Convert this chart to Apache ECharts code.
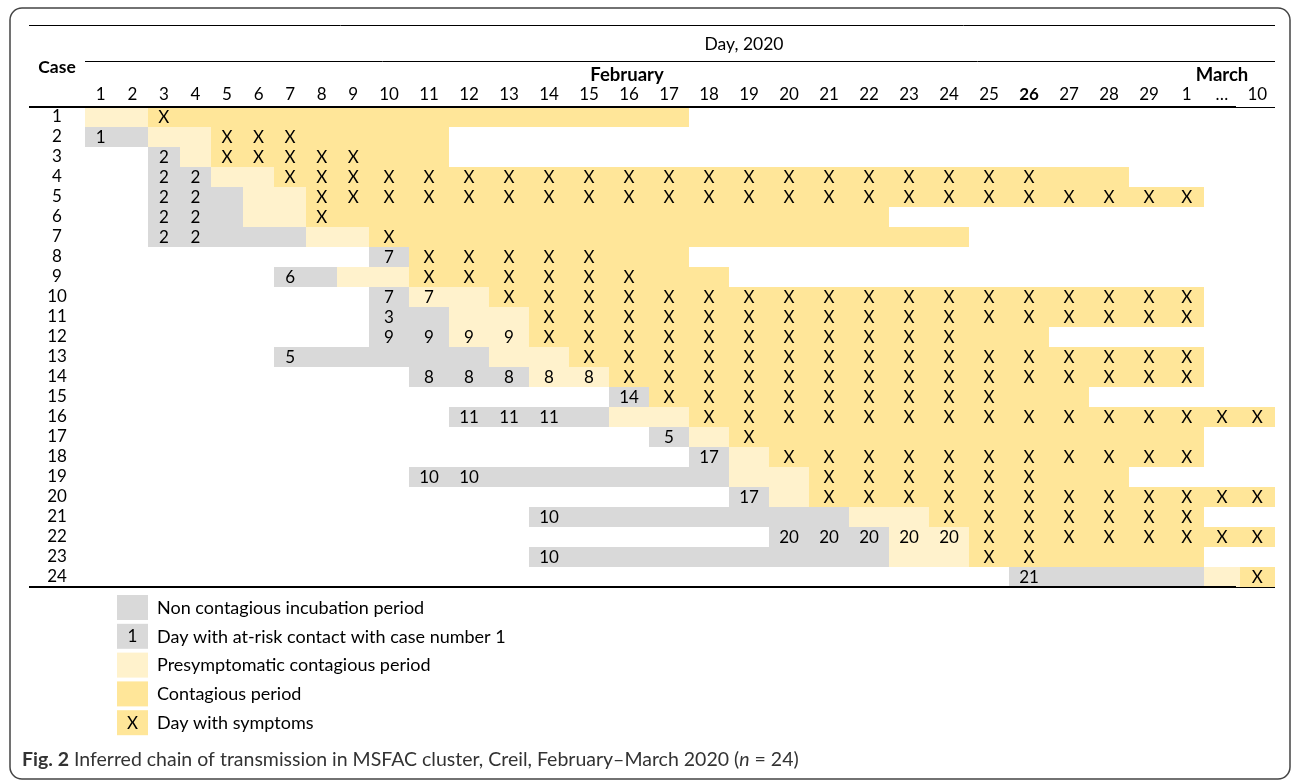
<!DOCTYPE html>
<html>
<head>
<meta charset="utf-8">
<script src="https://cdn.jsdelivr.net/npm/echarts@6/dist/echarts.min.js"></script>
<style>html,body{margin:0;padding:0;background:#fff}#c{width:1292px;height:780px}</style>
</head>
<body>
<div id="c"></div>
<script>
// ---- data ----
const dayLabels = ['1','2','3','4','5','6','7','8','9','10','11','12','13','14','15','16','17','18','19','20','21','22','23','24','25','26','27','28','29','1','…','10'];
const boldDay = '26';
const caseLabels = ['1','2','3','4','5','6','7','8','9','10','11','12','13','14','15','16','17','18','19','20','21','22','23','24'];
// per case, one token per day column (run-length "tok*n"):
// '.' none, 'i' non contagious incubation, 'p' presymptomatic contagious, 'c' contagious, 'x' contagious + symptoms
// ':N' = day with at-risk contact with case N
const caseRows = [
  'p*2 x c*14 .*15',
  'i:1 i p*2 x*3 c*4 .*21',
  '.*2 i:2 p x*5 c*2 .*21',
  '.*2 i:2*2 p*2 x*20 c*2 .*4',
  '.*2 i:2*2 i p*2 x*23 .*2',
  '.*2 i:2*2 i p*2 x c*14 .*10',
  '.*2 i:2*2 i*3 p*2 x c*14 .*8',
  '.*9 i:7 x*5 c*2 .*15',
  '.*6 i:6 i p*2 x*6 c*2 .*14',
  '.*9 i:7 p:7 p x*18 .*2',
  '.*9 i:3 i p*2 x*17 .*2',
  '.*9 i:9*2 p:9*2 x*11 c*2 .*6',
  '.*6 i:5 i*5 p*2 x*16 .*2',
  '.*10 i:8*3 p:8*2 x*15 .*2',
  '.*15 i:14 x*9 c*2 .*5',
  '.*11 i:11*3 i p*2 x*15',
  '.*16 i:5 p x c*11 .*2',
  '.*17 i:17 p x*11 .*2',
  '.*10 i:10*2 i*6 p*2 x*6 c*2 .*4',
  '.*18 i:17 p x*12',
  '.*13 i:10 i*7 p*2 x*7 .*2',
  '.*19 i:20*3 p:20*2 x*8',
  '.*13 i:10 i*8 p*2 x*2 c*4 .*2',
  '.*25 i:21 i*4 p x'
];
const legendItems = [
  {status:'i', mark:'', text:'Non contagious incubation period'},
  {status:'i', mark:'1', text:'Day with at-risk contact with case number 1'},
  {status:'p', mark:'', text:'Presymptomatic contagious period'},
  {status:'c', mark:'', text:'Contagious period'},
  {status:'c', mark:'X', text:'Day with symptoms'}
];
// ---- styles ----
const FONT = 'Lato';
const FS = 17;
const COLORS = {i:'#D9D9D9', p:'#FFF2CC', c:'#FFE699'};
// column groups (Feb 1-9, Feb 10-29, Mar 1 … 10) have different column widths
const groups = [
  {from:0, to:9, left:85, width:284},
  {from:9, to:29, left:369, width:800},
  {from:29, to:32, left:1169, width:106}
];
const TOP = 107, HEIGHT = 480;

function parseRow(s){
  const out = [];
  s.trim().split(/\s+/).forEach(t => {
    let n = 1, base = t;
    const k = t.lastIndexOf('*');
    if (k > 0) { n = parseInt(t.slice(k+1), 10); base = t.slice(0, k); }
    let status = base[0], label = '';
    if (status === 'x') { status = 'c'; label = 'X'; }
    else if (base.indexOf(':') > 0) label = base.slice(base.indexOf(':')+1);
    for (let j = 0; j < n; j++) out.push({status, label});
  });
  return out;
}
const cells = caseRows.map(parseRow);

const grids = [], xAxes = [], yAxes = [], series = [];
groups.forEach((g, gi) => {
  grids.push({left:g.left, width:g.width, top:TOP, height:HEIGHT});
  xAxes.push({
    type:'category', gridIndex:gi, position:'top', data:dayLabels.slice(g.from, g.to),
    axisLine:{show:false}, axisTick:{show:false}, splitLine:{show:false},
    axisLabel:{margin:4, fontSize:FS, color:'#000', fontFamily:FONT, interval:0,
      formatter: v => v === boldDay ? '{b|' + v + '}' : v,
      rich:{b:{fontWeight:'bold', fontSize:FS, color:'#000', fontFamily:FONT}}}
  });
  yAxes.push({
    type:'category', gridIndex:gi, inverse:true, data:caseLabels,
    axisLine:{show:false}, axisTick:{show:false}, splitLine:{show:false},
    axisLabel:{show:gi === 0, margin:28, align:'center', fontSize:FS, color:'#000', fontFamily:FONT, interval:0}
  });
  const data = [], meta = [];
  cells.forEach((row, r) => {
    for (let c = g.from; c < g.to; c++) {
      const cell = row[c];
      if (!cell || cell.status === '.') continue;
      data.push([c - g.from, r]);
      meta.push(cell);
    }
  });
  series.push({
    type:'custom', xAxisIndex:gi, yAxisIndex:gi, data:data, silent:true,
    renderItem:(params, api) => {
      const m = meta[params.dataIndex];
      const p = api.coord([api.value(0), api.value(1)]);
      const sz = api.size([1, 1]);
      const x0 = Math.round(p[0] - sz[0]/2), x1 = Math.round(p[0] + sz[0]/2);
      const y0 = Math.round(p[1] - sz[1]/2), y1 = Math.round(p[1] + sz[1]/2);
      const children = [{type:'rect', shape:{x:x0, y:y0, width:x1-x0, height:y1-y0}, style:{fill:COLORS[m.status]}}];
      if (m.label) children.push({type:'text', style:{text:m.label, x:p[0], y:p[1]+1, align:'center', verticalAlign:'middle', fontSize:FS, fontFamily:FONT, fill:'#000'}});
      return {type:'group', children};
    }
  });
});

const graphic = [
  {type:'rect', shape:{x:10, y:8, width:1280, height:771, r:12}, style:{fill:'none', stroke:'#444', lineWidth:1.5}, z:1},
  {type:'line', shape:{x1:29, y1:25.5, x2:1275, y2:25.5}, style:{stroke:'#000', lineWidth:1}},
  {type:'line', shape:{x1:85, y1:61.5, x2:1275, y2:61.5}, style:{stroke:'#000', lineWidth:1}},
  {type:'line', shape:{x1:29, y1:107, x2:1236, y2:107}, style:{stroke:'#000', lineWidth:2}, z:50},
  {type:'line', shape:{x1:1236, y1:107.5, x2:1275, y2:107.5}, style:{stroke:'#000', lineWidth:1}, z:50},
  {type:'line', shape:{x1:29, y1:587, x2:1236, y2:587}, style:{stroke:'#000', lineWidth:2}, z:50},
  {type:'line', shape:{x1:1236, y1:587.5, x2:1275, y2:587.5}, style:{stroke:'#000', lineWidth:1}, z:50},
  {type:'text', style:{text:'Case', x:57, y:67, align:'center', verticalAlign:'middle', fontSize:17.5, fontWeight:'bold', fontFamily:FONT, fill:'#000'}},
  {type:'text', style:{text:'Day, 2020', x:744, y:44, align:'center', verticalAlign:'middle', fontSize:17.5, fontFamily:FONT, fill:'#000'}},
  {type:'text', style:{text:'February', x:627, y:75, align:'center', verticalAlign:'middle', fontSize:18.5, fontWeight:'bold', fontFamily:FONT, fill:'#000'}},
  {type:'text', style:{text:'March', x:1222, y:75, align:'center', verticalAlign:'middle', fontSize:18.5, fontWeight:'bold', fontFamily:FONT, fill:'#000'}},
  {type:'text', style:{
    text:'{b|Fig. 2} Inferred chain of transmission in MSFAC cluster, Creil, February–March 2020 ({i|n} = 24)',
    x:22, y:760, align:'left', verticalAlign:'middle', fontSize:19.5, fontFamily:FONT, fill:'#333',
    rich:{b:{fontWeight:'bold', fontSize:19.5, fontFamily:FONT, fill:'#333'}, i:{fontStyle:'italic', fontSize:19.5, fontFamily:FONT, fill:'#333'}}
  }}
];
legendItems.forEach((it, k) => {
  const y = 595 + k * 28.8;
  graphic.push({type:'rect', shape:{x:117, y:y, width:31, height:25}, style:{fill:COLORS[it.status]}});
  if (it.mark) graphic.push({type:'text', style:{text:it.mark, x:132.5, y:y+13, align:'center', verticalAlign:'middle', fontSize:FS, fontFamily:FONT, fill:'#000'}});
  graphic.push({type:'text', style:{text:it.text, x:157, y:y+13, align:'left', verticalAlign:'middle', fontSize:18, fontFamily:FONT, fill:'#000'}});
});

const chart = echarts.init(document.getElementById('c'), null, {renderer:'canvas'});
chart.setOption({
  animation:false,
  backgroundColor:'#fff',
  grid:grids, xAxis:xAxes, yAxis:yAxes, series:series, graphic:graphic
});
</script>
</body>
</html>
